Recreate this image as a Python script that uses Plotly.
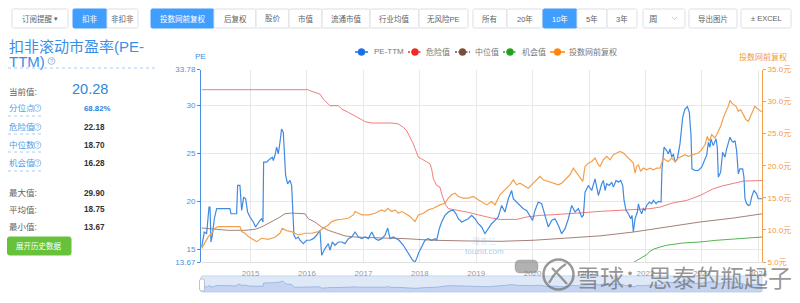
import plotly.graph_objects as go
from datetime import datetime

W, H = 800, 303
FONT = "Liberation Sans, Noto Sans CJK SC, sans-serif"

# ---------------- data: (decimal year, value) ----------------
pe_ttm = [
    (2014.132, 15.24), (2014.179, 16.80), (2014.220, 16.63), (2014.262, 19.41), (2014.280, 19.41),
    (2014.297, 15.76), (2014.321, 16.46), (2014.356, 18.19), (2014.398, 19.24), (2014.634, 19.24),
    (2014.652, 18.71), (2014.752, 18.71), (2014.770, 21.67), (2014.811, 21.67), (2014.841, 19.06),
    (2014.877, 20.45), (2014.912, 20.28), (2014.947, 18.89), (2014.989, 18.37), (2015.048, 17.85),
    (2015.089, 17.33), (2015.125, 17.67), (2015.166, 18.02), (2015.196, 18.19), (2015.219, 17.85),
    (2015.231, 24.10), (2015.284, 24.10), (2015.343, 24.44), (2015.385, 24.62), (2015.402, 24.27),
    (2015.432, 24.79), (2015.462, 25.66), (2015.491, 24.96), (2015.521, 26.18), (2015.550, 27.57),
    (2015.580, 27.22), (2015.598, 25.14), (2015.621, 22.71), (2015.657, 21.84), (2015.698, 22.19),
    (2015.728, 21.67), (2015.745, 19.58), (2015.769, 16.46), (2015.804, 16.11), (2015.846, 16.28),
    (2015.875, 15.94), (2015.934, 15.59), (2015.993, 15.94), (2016.053, 15.94), (2016.112, 16.11),
    (2016.171, 16.46), (2016.230, 16.98), (2016.260, 14.37), (2016.319, 15.07), (2016.378, 15.59),
    (2016.407, 14.90), (2016.449, 15.76), (2016.496, 15.42), (2016.555, 15.76), (2016.614, 15.76),
    (2016.673, 15.59), (2016.732, 16.11), (2016.791, 16.28), (2016.851, 16.80), (2016.910, 16.28),
    (2016.969, 16.11), (2017.028, 16.28), (2017.087, 16.11), (2017.146, 16.80), (2017.205, 16.11),
    (2017.264, 15.94), (2017.323, 16.11), (2017.382, 16.46), (2017.430, 17.22), (2017.471, 16.11),
    (2017.530, 16.28), (2017.589, 16.11), (2017.631, 15.94), (2017.707, 15.42), (2017.766, 14.90),
    (2017.825, 14.37), (2017.873, 13.85), (2017.914, 13.68), (2017.944, 14.03), (2017.973, 14.55),
    (2018.003, 14.90), (2018.050, 15.42), (2018.091, 15.94), (2018.150, 16.11), (2018.209, 15.94),
    (2018.269, 16.11), (2018.298, 15.94), (2018.345, 17.15), (2018.387, 17.85), (2018.446, 18.54),
    (2018.505, 18.89), (2018.564, 19.06), (2018.594, 19.06), (2018.641, 18.71), (2018.682, 18.19),
    (2018.741, 17.85), (2018.800, 18.02), (2018.860, 18.19), (2018.919, 18.54), (2018.978, 18.19),
    (2019.037, 17.67), (2019.096, 17.33), (2019.155, 16.63), (2019.214, 17.15), (2019.273, 17.67),
    (2019.332, 18.02), (2019.391, 18.37), (2019.451, 19.58), (2019.510, 18.89), (2019.569, 20.28),
    (2019.628, 21.14), (2019.657, 20.28), (2019.716, 19.93), (2019.776, 19.58), (2019.835, 19.24),
    (2019.894, 19.06), (2019.953, 18.54), (2020.000, 18.02), (2020.042, 19.06), (2020.101, 19.93),
    (2020.160, 19.76), (2020.219, 18.54), (2020.278, 17.33), (2020.337, 18.02), (2020.396, 18.19),
    (2020.455, 17.50), (2020.514, 16.63), (2020.574, 17.15), (2020.633, 18.19), (2020.692, 19.58),
    (2020.751, 18.89), (2020.810, 19.24), (2020.869, 18.37), (2020.899, 18.54), (2020.928, 20.97),
    (2020.987, 21.67), (2021.046, 21.14), (2021.105, 22.36), (2021.165, 20.62), (2021.224, 21.84),
    (2021.253, 22.19), (2021.283, 21.14), (2021.312, 21.84), (2021.359, 21.67), (2021.401, 22.01),
    (2021.430, 21.49), (2021.478, 22.19), (2021.519, 22.01), (2021.560, 22.19), (2021.596, 21.67),
    (2021.620, 20.10), (2021.655, 19.06), (2021.696, 18.71), (2021.738, 18.19), (2021.761, 18.54),
    (2021.785, 16.80), (2021.815, 18.19), (2021.856, 18.89), (2021.874, 19.76), (2021.903, 19.06),
    (2021.933, 18.71), (2021.962, 19.24), (2021.992, 19.06), (2022.021, 19.58), (2022.069, 19.93),
    (2022.110, 19.76), (2022.140, 20.10), (2022.187, 19.76), (2022.228, 20.00), (2022.276, 19.93),
    (2022.293, 23.40), (2022.329, 25.66), (2022.376, 25.31), (2022.406, 24.96), (2022.435, 25.49),
    (2022.465, 24.62), (2022.494, 24.96), (2022.524, 24.10), (2022.565, 24.44), (2022.612, 26.01),
    (2022.660, 28.78), (2022.701, 29.65), (2022.743, 29.90), (2022.778, 29.30), (2022.808, 26.87),
    (2022.825, 23.40), (2022.878, 23.23), (2022.938, 23.23), (2022.997, 23.58), (2023.056, 24.44),
    (2023.085, 24.79), (2023.115, 26.18), (2023.144, 25.66), (2023.162, 26.53), (2023.203, 25.83),
    (2023.251, 26.53), (2023.274, 25.66), (2023.292, 22.53), (2023.333, 23.05), (2023.369, 25.14),
    (2023.410, 24.62), (2023.440, 25.49), (2023.499, 26.70), (2023.528, 26.35), (2023.558, 26.18),
    (2023.588, 26.35), (2023.617, 25.31), (2023.647, 22.88), (2023.676, 23.40), (2023.724, 23.40),
    (2023.747, 22.53), (2023.765, 20.28), (2023.795, 19.76), (2023.824, 19.58), (2023.854, 19.65),
    (2023.883, 20.45), (2023.924, 21.14), (2023.971, 20.80), (2024.001, 20.28), (2024.031, 20.28),
    (2024.067, 20.28),
]

danger = [
    (2014.132, 31.67), (2016.023, 31.67), (2016.053, 31.56), (2016.141, 31.39), (2016.230, 31.21),
    (2016.289, 30.69), (2016.348, 30.35), (2016.407, 30.00), (2016.555, 30.00), (2016.614, 29.65),
    (2016.732, 29.30), (2016.851, 28.96), (2016.969, 28.54), (2017.028, 28.33), (2017.146, 28.19),
    (2017.500, 28.19), (2017.619, 28.09), (2017.707, 27.74), (2017.766, 27.39), (2017.884, 26.01),
    (2017.973, 24.62), (2018.032, 24.44), (2018.180, 23.92), (2018.209, 23.40), (2018.239, 22.36),
    (2018.298, 21.67), (2018.357, 21.49), (2018.387, 20.80), (2018.446, 19.76), (2018.505, 19.24),
    (2018.594, 19.17), (2018.682, 19.06), (2018.830, 18.89), (2019.066, 18.54), (2019.273, 18.26),
    (2019.421, 18.12), (2019.716, 18.12), (2019.894, 18.37), (2020.130, 18.54), (2020.367, 18.61),
    (2020.603, 18.68), (2020.899, 18.82), (2021.194, 18.96), (2021.490, 19.06), (2021.785, 19.17),
    (2022.081, 19.24), (2022.258, 19.41), (2022.494, 19.86), (2022.731, 20.10), (2022.967, 20.62),
    (2023.085, 20.97), (2023.203, 21.32), (2023.351, 21.60), (2023.558, 21.84), (2023.736, 22.12),
    (2024.067, 22.18),
]

median = [
    (2014.132, 17.22), (2014.368, 17.08), (2014.605, 16.98), (2014.900, 16.98), (2015.077, 17.08),
    (2015.196, 17.33), (2015.373, 17.85), (2015.491, 18.26), (2015.609, 18.71), (2015.728, 18.78),
    (2015.964, 18.71), (2016.023, 18.19), (2016.141, 17.85), (2016.260, 17.33), (2016.378, 16.98),
    (2016.496, 16.74), (2016.673, 16.39), (2016.851, 16.28), (2017.087, 16.21), (2017.323, 16.18),
    (2017.737, 16.11), (2018.239, 15.94), (2018.830, 15.87), (2019.421, 15.83), (2020.012, 15.94),
    (2020.603, 16.18), (2021.194, 16.40), (2021.785, 16.80), (2022.376, 17.33), (2022.967, 17.85),
    (2023.558, 18.26), (2024.067, 18.70),
]

chance = [
    (2021.785, 13.61), (2021.903, 14.03), (2022.021, 14.44), (2022.081, 14.79), (2022.140, 15.00),
    (2022.258, 15.24), (2022.376, 15.42), (2022.671, 15.66), (2022.967, 15.76), (2023.262, 15.94),
    (2023.558, 16.04), (2024.067, 16.28),
]

price = [
    (2014.132, 7.13), (2014.191, 8.17), (2014.250, 8.96), (2014.309, 9.48), (2014.368, 10.26),
    (2014.427, 10.52), (2014.605, 10.52), (2014.812, 10.52), (2014.841, 9.74), (2014.900, 9.48),
    (2014.959, 8.96), (2015.048, 8.44), (2015.107, 8.17), (2015.196, 8.70), (2015.314, 8.54),
    (2015.432, 8.85), (2015.521, 9.48), (2015.562, 10.26), (2015.639, 9.89), (2015.728, 9.74),
    (2015.787, 9.48), (2015.846, 9.22), (2015.964, 9.48), (2016.082, 9.48), (2016.200, 9.74),
    (2016.289, 10.26), (2016.378, 10.78), (2016.437, 11.30), (2016.525, 11.56), (2016.614, 11.66),
    (2016.732, 11.82), (2016.821, 12.34), (2016.851, 12.86), (2016.910, 12.60), (2016.969, 12.34),
    (2017.087, 12.34), (2017.205, 12.60), (2017.264, 12.86), (2017.323, 13.12), (2017.382, 12.86),
    (2017.430, 13.38), (2017.500, 12.86), (2017.560, 13.12), (2017.619, 12.60), (2017.678, 12.86),
    (2017.737, 12.60), (2017.825, 12.08), (2017.914, 11.30), (2017.973, 12.34), (2018.062, 12.60),
    (2018.150, 13.12), (2018.239, 13.38), (2018.298, 13.64), (2018.357, 13.90), (2018.446, 14.16),
    (2018.505, 14.95), (2018.564, 15.47), (2018.623, 15.73), (2018.682, 15.21), (2018.771, 14.95),
    (2018.860, 14.95), (2018.948, 15.21), (2019.037, 14.69), (2019.126, 14.16), (2019.185, 13.90),
    (2019.273, 14.43), (2019.332, 13.90), (2019.421, 15.47), (2019.480, 15.99), (2019.539, 16.51),
    (2019.598, 17.03), (2019.657, 17.81), (2019.716, 17.03), (2019.776, 17.29), (2019.864, 16.77),
    (2019.924, 16.51), (2020.012, 17.29), (2020.071, 17.81), (2020.130, 18.33), (2020.189, 17.81),
    (2020.278, 17.55), (2020.367, 17.29), (2020.455, 17.03), (2020.514, 17.29), (2020.574, 17.81),
    (2020.662, 18.59), (2020.721, 19.63), (2020.780, 18.85), (2020.839, 18.07), (2020.887, 17.55),
    (2020.928, 19.89), (2020.987, 20.41), (2021.046, 20.67), (2021.105, 21.20), (2021.165, 20.15),
    (2021.194, 19.89), (2021.253, 20.94), (2021.312, 21.46), (2021.371, 20.94), (2021.430, 21.72),
    (2021.490, 21.98), (2021.549, 22.24), (2021.608, 21.98), (2021.667, 21.46), (2021.726, 20.94),
    (2021.785, 20.41), (2021.815, 18.85), (2021.844, 19.89), (2021.874, 20.15), (2021.915, 19.11),
    (2021.962, 19.63), (2022.021, 19.37), (2022.081, 19.63), (2022.140, 19.37), (2022.199, 19.63),
    (2022.258, 19.63), (2022.317, 21.20), (2022.347, 20.94), (2022.406, 20.67), (2022.465, 21.20),
    (2022.524, 20.67), (2022.583, 21.20), (2022.642, 21.46), (2022.701, 21.72), (2022.760, 21.46),
    (2022.849, 21.72), (2022.938, 21.98), (2022.997, 22.50), (2023.056, 23.28), (2023.097, 24.58),
    (2023.132, 23.80), (2023.174, 24.84), (2023.233, 24.32), (2023.292, 25.36), (2023.333, 26.14),
    (2023.381, 27.45), (2023.410, 28.23), (2023.440, 28.75), (2023.470, 29.27), (2023.499, 30.21),
    (2023.528, 29.79), (2023.558, 29.53), (2023.605, 29.27), (2023.647, 28.49), (2023.688, 28.75),
    (2023.736, 27.97), (2023.783, 27.19), (2023.824, 26.92), (2023.866, 27.71), (2023.913, 28.75),
    (2023.942, 29.27), (2023.972, 29.01), (2024.001, 28.75), (2024.043, 28.49), (2024.067, 28.49),
]

x_start, x_end = 2014.12, 2024.067
pe_ticks = [13.67, 15, 20, 25, 30, 33.78]
pe_tick_text = ["13.67", "15", "20", "25", "30", "33.78"]
price_ticks = [5, 10, 15, 20, 25, 30, 35]
price_tick_text = ["5.0元", "10.0元", "15.0元", "20.0元", "25.0元", "30.0元", "35.0元"]

series_names = ["PE-TTM", "危险值", "中位值", "机会值", "投数网前复权"]
stat_rows = [("分位点", "68.82%"), ("危险值", "22.18"), ("中位数", "18.70"), ("机会值", "16.28")]
stat_rows2 = [("最大值:", "29.90"), ("平均值:", "18.75"), ("最小值:", "13.67")]
current_value = "20.28"

toolbar = [
    ("订阅提醒", 12, 68, False), ("扣非", 73, 107, True), ("非扣非", 107, 138, False),
    ("投数网前复权", 151, 214, True), ("后复权", 214, 256, False), ("股价", 256, 289, False),
    ("市值", 289, 322, False), ("流通市值", 322, 370, False), ("行业均值", 370, 419, False),
    ("无风险PE", 419, 468, False), ("所有", 473, 507, False), ("20年", 507, 543, False),
    ("10年", 543, 577, True), ("5年", 577, 607, False), ("3年", 607, 637, False),
    ("周", 643, 685, False), ("导出图片", 689, 737, False), ("± EXCEL", 741, 791, False),
]


def to_date(t):
    y = int(t)
    a, b = datetime(y, 1, 1), datetime(y + 1, 1, 1)
    return a + (b - a) * (t - y)


def split(series):
    return [to_date(t) for t, _ in series], [v for _, v in series]


def X(px):
    return px / W


def Y(py):
    return 1 - py / H


def P(x, y):
    return f"{X(x):.5f},{Y(y):.5f}"


shapes, ann = [], []


def rrect(x0, y0, x1, y1, r, fill, line, lw=1, layer="above"):
    path = (f"M{P(x0 + r, y0)} L{P(x1 - r, y0)} Q{P(x1, y0)} {P(x1, y0 + r)} L{P(x1, y1 - r)} "
            f"Q{P(x1, y1)} {P(x1 - r, y1)} L{P(x0 + r, y1)} Q{P(x0, y1)} {P(x0, y1 - r)} "
            f"L{P(x0, y0 + r)} Q{P(x0, y0)} {P(x0 + r, y0)} Z")
    shapes.append(dict(type="path", xref="paper", yref="paper", path=path, fillcolor=fill,
                       line=dict(color=line, width=lw), layer=layer))


def hline(x0, x1, y, color, dash="solid", lw=1):
    shapes.append(dict(type="line", xref="paper", yref="paper", x0=X(x0), x1=X(x1), y0=Y(y), y1=Y(y),
                       line=dict(color=color, width=lw, dash=dash)))


def circle(cx, cy, r, fill, line, lw=1):
    shapes.append(dict(type="circle", xref="paper", yref="paper", x0=X(cx - r), x1=X(cx + r),
                       y0=Y(cy + r), y1=Y(cy - r), fillcolor=fill, line=dict(color=line, width=lw)))


def T(x, y, s, size=8.5, color="#606266", anchor="left", bold=False, family=FONT):
    if bold:
        s = f"<b>{s}</b>"
    ann.append(dict(x=X(x), y=Y(y), xref="paper", yref="paper", text=s, showarrow=False,
                    xanchor=anchor, yanchor="middle", borderpad=0,
                    font=dict(size=size, color=color, family=family)))


def qicon(cx, cy, color):
    circle(cx, cy, 3.4, "rgba(0,0,0,0)", color, 0.8)
    T(cx, cy, "?", 5.5, color, "center")


# ---------------- toolbar ----------------
for label, x0, x1, active in toolbar:
    fill = "#409eff" if active else "#ffffff"
    line = "#409eff" if active else "#dcdfe6"
    rrect(x0, 9, x1, 28, 1.5, fill, line, 1)
    tc = "#ffffff" if active else "#606266"
    if label == "订阅提醒":
        T(20.5, 18.5, label, 7.5, tc)
        T(55.5, 18.5, "▾", 7, tc, "center")
    elif label == "周":
        T(648, 18.5, label, 8.5, tc)
        shapes.append(dict(type="path", xref="paper", yref="paper",
                           path=f"M{P(672, 17)} L{P(674.5, 19.5)} L{P(677, 17)}",
                           line=dict(color="#c0c4cc", width=0.8)))
    else:
        T((x0 + x1) / 2, 18.5, label, 7.5, tc, "center")

# ---------------- left panel ----------------
T(8, 46, "扣非滚动市盈率(PE-", 15, "#3a8ee6")
T(8, 61, "TTM)", 15, "#3a8ee6")
qicon(51.5, 61, "#8aa9c8")
hline(8, 157, 68, "#a8cdf0", "dot", 1)

T(8, 91.5, "当前值:", 8.5, "#606266")
T(71, 88.5, current_value, 14.5, "#2f86e0")

rows_y = [108, 127, 145, 163]
under_y = [116, 134, 152, 171]
for (lab, val), ry, uy in zip(stat_rows, rows_y, under_y):
    T(8, ry, lab, 8.5, "#4d9de8")
    qicon(37.5, ry, "#7fb3e6")
    hline(8, 44, uy, "#a8cdf0", "dot", 1)
    if lab == "分位点":
        T(83, ry, val, 7.8, "#2f7fe0", bold=True)
    else:
        T(83, ry, val, 8.2, "#333333", bold=True)

for (lab, val), ry in zip(stat_rows2, [193, 210, 227]):
    T(8, ry, lab, 8.5, "#606266")
    T(83, ry, val, 8.2, "#333333", bold=True)

rrect(7.5, 237, 71, 255, 2, "#67c23a", "#67c23a", 1)
T(39.3, 246, "展开历史数据", 7.5, "#ffffff", "center")

# ---------------- legend (manual) ----------------
legend_items = [
    (series_names[0], "#1a6fe6", "solid", 355, 368, 373),
    (series_names[1], "#f02828", "2px,1.5px", 408, 422, 425),
    (series_names[2], "#7b4b3a", "2px,1.5px", 455, 470, 474),
    (series_names[3], "#22a022", "2px,1.5px", 503, 517, 521),
    (series_names[4], "#ff8410", "solid", 550, 565, 568),
]
for name, col, dash, lx0, lx1, tx in legend_items:
    hline(lx0, lx1, 52, col, dash, 1.5)
    circle((lx0 + lx1) / 2, 52, 3.5, col, col, 0.5)
    T(tx, 52, name, 8, "#777777")

# axis names
T(201, 57, "PE", 8, "#3a8ee6", "center")
T(763, 57, "投数网前复权", 8, "#f29a3c", "center")

# ---------------- data zoom slider ----------------
rrect(201, 276, 762, 292, 1, "#dfe8f7", "#c8d6ef", 1, layer="below")
rrect(199.5, 279, 204.5, 291, 2, "#ffffff", "#a9b4c4", 0.8)

# ---------------- watermarks ----------------
T(484, 241, "理杏仁", 8, "rgba(150,185,225,0.35)", "center")
T(484, 251, "touzid.com", 8, "rgba(110,165,220,0.6)", "center")
rrect(515, 260, 538, 273, 5, "rgba(125,125,125,0.6)", "rgba(125,125,125,0.6)", 0.5)
circle(558.5, 274.5, 15, "rgba(0,0,0,0)", "rgba(110,110,110,0.7)", 2.5)
shapes.append(dict(type="path", xref="paper", yref="paper",
                   path=f"M{P(549, 283)} Q{P(556, 270)} {P(566, 264)} M{P(552, 268)} Q{P(560, 276)} {P(567, 284)}",
                   line=dict(color="rgba(110,110,110,0.7)", width=2.2)))
T(684, 276, "雪球：思泰的瓶起子", 24, "rgba(105,105,105,0.7)", "center", family="Noto Sans CJK SC")

# ---------------- traces ----------------
fig = go.Figure()
pe_x, pe_y = split(pe_ttm)
for data, col, w in [
    (median, "rgba(135,85,75,0.75)", 1.0),
    (danger, "rgba(232,70,70,0.7)", 1.0),
    (chance, "rgba(40,160,40,0.8)", 1.0),
]:
    xs, ys = split(data)
    fig.add_trace(go.Scatter(x=xs, y=ys, mode="lines", line=dict(color=col, width=w),
                             xaxis="x", yaxis="y", hoverinfo="skip", showlegend=False))
fig.add_trace(go.Scatter(x=pe_x, y=pe_y, mode="lines", name=series_names[0],
                         line=dict(color="#3f8ae2", width=1.2), xaxis="x", yaxis="y",
                         hoverinfo="skip", showlegend=False))
px_, py_ = split(price)
fig.add_trace(go.Scatter(x=px_, y=py_, mode="lines", name=series_names[4],
                         line=dict(color="#f3a04e", width=1.2), xaxis="x", yaxis="y2",
                         hoverinfo="skip", showlegend=False))
fig.add_trace(go.Scatter(x=pe_x, y=pe_y, mode="lines", fill="tozeroy",
                         fillcolor="rgba(150,178,228,0.35)",
                         line=dict(color="rgba(120,152,215,0.8)", width=0.7),
                         xaxis="x2", yaxis="y3", hoverinfo="skip", showlegend=False))

xr = [to_date(x_start), to_date(x_end)]
dom_x = [X(201), X(762)]
fig.update_layout(
    width=W, height=H, margin=dict(l=0, r=0, t=0, b=0), template="none",
    paper_bgcolor="white", plot_bgcolor="rgba(0,0,0,0)", showlegend=False,
    font=dict(family=FONT, size=8, color="#606266"),
    shapes=shapes, annotations=ann,
    xaxis=dict(type="date", domain=dom_x, range=xr, anchor="y", tickformat="%Y", dtick="M12",
               tick0="2015-01-01", showgrid=True, gridcolor="#e8e8e8", gridwidth=1, zeroline=False,
               showline=True, linecolor="#e0e0e0", ticks="outside", ticklen=3,
               tickcolor="rgba(0,0,0,0)", tickfont=dict(size=8, color="#999999"),
               automargin=False, fixedrange=True),
    yaxis=dict(domain=[Y(262), Y(69.5)], range=[13.67, 33.78], anchor="x", tickvals=pe_ticks,
               ticktext=pe_tick_text, showgrid=True, gridcolor="#e8e8e8", zeroline=False,
               showline=True, linecolor="#4a90e2", linewidth=1, ticks="outside", ticklen=3,
               tickcolor="#4a90e2", tickfont=dict(size=8, color="#4a90e2"),
               automargin=False, fixedrange=True),
    yaxis2=dict(overlaying="y", side="right", anchor="x", range=[5, 35], tickvals=price_ticks,
                ticktext=price_tick_text, showgrid=False, zeroline=False, showline=True,
                linecolor="#f5a04a", linewidth=1, ticks="outside", ticklen=3, tickcolor="#f5a04a",
                tickfont=dict(size=8, color="#f29a3c"), automargin=False, fixedrange=True),
    xaxis2=dict(type="date", domain=dom_x, range=xr, anchor="y3", visible=False, fixedrange=True),
    yaxis3=dict(domain=[Y(292), Y(276)], range=[7, 37.5], anchor="x2", visible=False, fixedrange=True),
)

fig.write_html("out.html", config={"displayModeBar": False, "staticPlot": True})
